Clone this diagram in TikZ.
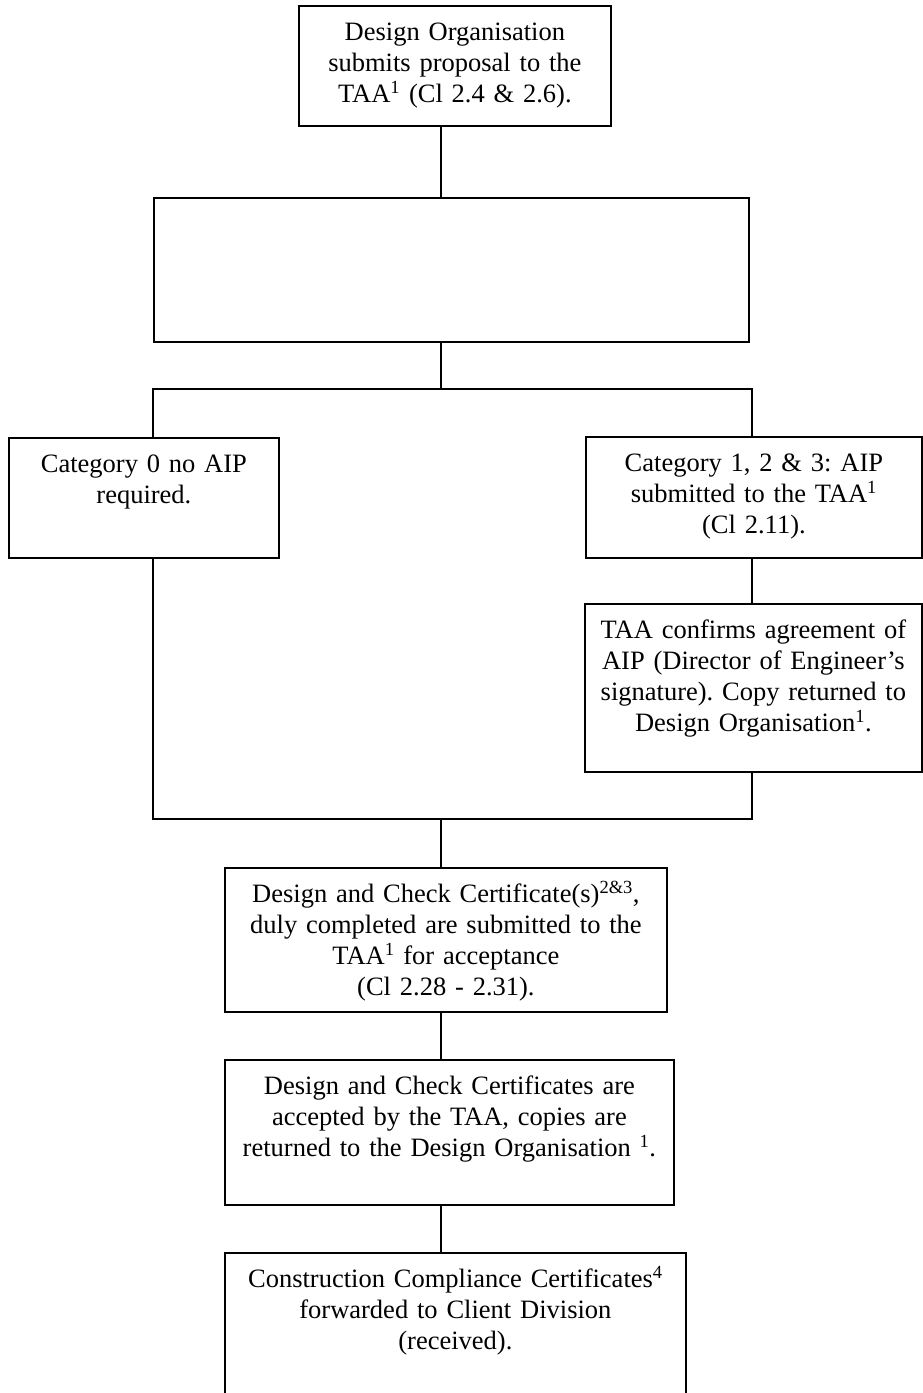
\documentclass[tikz,border=0pt]{standalone}
\usepackage{fontspec}
\setmainfont{Liberation Serif}
\usetikzlibrary{positioning,calc}

\begin{document}
\begin{tikzpicture}[x=1pt, y=-1pt, font=\fontsize{26.5}{30.8}\selectfont\frenchspacing,
  box/.style={draw, line width=1.8pt, align=center, inner xsep=4pt, inner ysep=0pt, text height=35pt, anchor=north west},
  link/.style={line width=1.8pt}]
  \clip (0,0) rectangle (923,1393);

  % column coordinates
  \coordinate (split) at (441,389);
  \coordinate (merge) at (441,819);
  \coordinate (lcol) at (153,0);
  \coordinate (rcol) at (752,0);

  % Proposal and assessment
  \node[box, text width=304, text depth=85] (prop) at (298,5) {Design Organisation\\submits proposal to the\\TAA\textsuperscript{1} (Cl 2.4 \& 2.6).};
  \node[box, text width=587, text depth=109] (assess) at (153,197) {};

  % Category branches
  \node[box, text width=262, text depth=85] (cat0) at (8,437) {Category 0 no AIP\\required.};
  \node[box, text width=328, text depth=86] (cat123) at (585,436) {Category 1, 2 \& 3: AIP\\submitted to the TAA\textsuperscript{1}\\(Cl 2.11).};
  \node[box, text width=329, text depth=133] (agree) at (584,603) {TAA confirms agreement of\\AIP (Director of Engineer’s\\signature). Copy returned to\\Design Organisation\textsuperscript{1}.};

  % Certification
  \node[box, text width=434, text depth=109] (dcc) at (224,867) {Design and Check Certificate(s)\textsuperscript{2\&3},\\duly completed are submitted to the\\TAA\textsuperscript{1} for acceptance\\(Cl 2.28 - 2.31).};
  \node[box, text width=441, text depth=110] (accept) at (224,1059) {Design and Check Certificates are\\accepted by the TAA, copies are\\returned to the Design Organisation \textsuperscript{1}.};
  \node[box, text width=453, text depth=135] (ccc) at (224,1252) {Construction Compliance Certificates\textsuperscript{4}\\forwarded to Client Division\\(received).};

  % connectors
  \draw[link] (prop.south -| split) -- (assess.north -| split);
  \draw[link] (assess.south -| split) -- (split);
  \draw[link] (cat0.north -| lcol) |- (split) -| (cat123.north -| rcol);
  \draw[link] (cat123.south -| rcol) -- (agree.north -| rcol);
  \draw[link] (cat0.south -| lcol) |- (merge) -| (agree.south -| rcol);
  \draw[link] (merge) -- (dcc.north -| merge);
  \draw[link] (dcc.south -| merge) -- (accept.north -| merge);
  \draw[link] (accept.south -| merge) -- (ccc.north -| merge);
\end{tikzpicture}
\end{document}
